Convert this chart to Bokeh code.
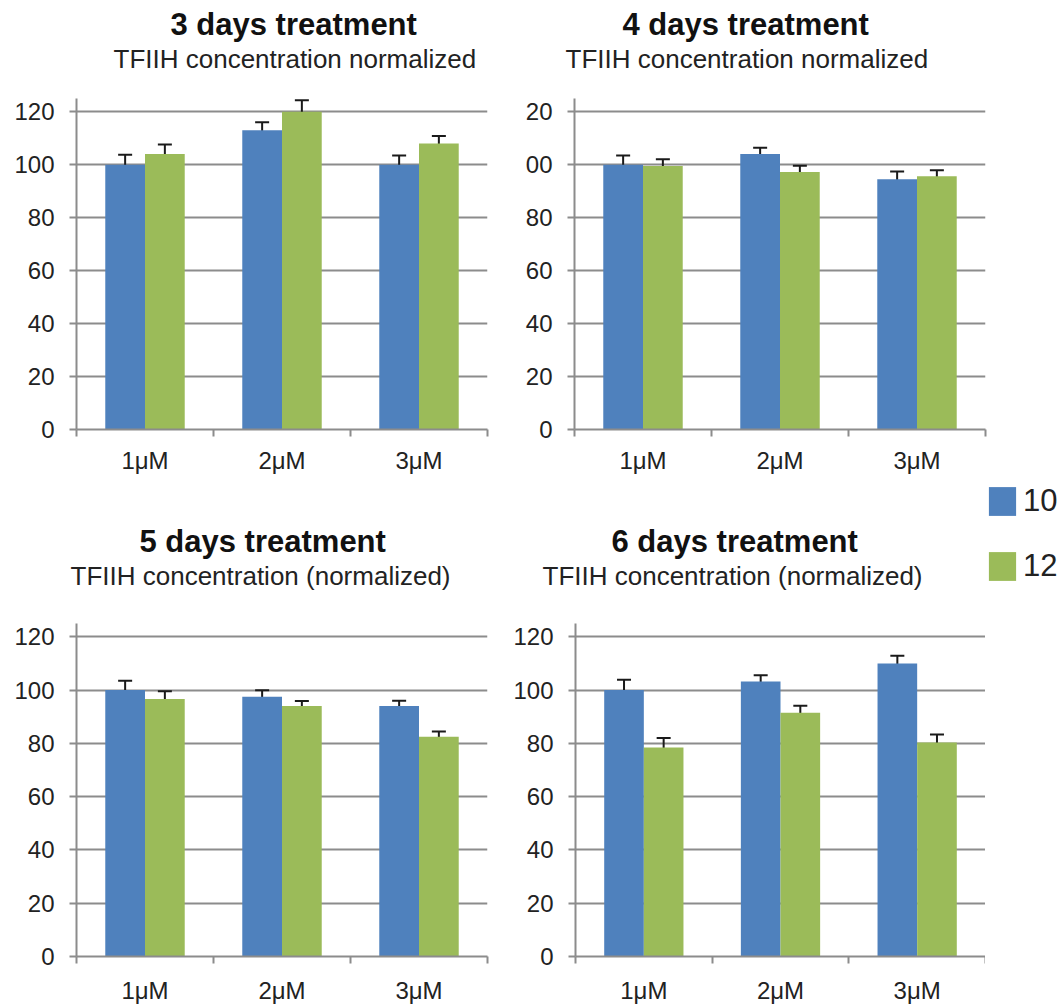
import numpy as np
from bokeh.plotting import figure
from bokeh.models import (ColumnDataSource, Range1d, FixedTicker, Whisker, TeeHead,
                          Title, Label, Legend, LegendItem, Plot)
from bokeh.layouts import row, column
from bokeh.embed import file_html
from bokeh.resources import INLINE

# ---------------- data ----------------
categories = ["1μM", "2μM", "3μM"]
series_names = ["10", "12"]

titles = ["3 days treatment", "4 days treatment", "5 days treatment", "6 days treatment"]
subtitles = ["TFIIH concentration normalized", "TFIIH concentration normalized",
             "TFIIH concentration (normalized)", "TFIIH concentration (normalized)"]

day3_10 = [100, 113, 100]
day3_10_err = [3.8, 3.0, 3.5]
day3_12 = [104, 120, 108]
day3_12_err = [3.6, 4.3, 2.8]

day4_10 = [100, 104, 94.5]
day4_10_err = [3.5, 2.4, 2.9]
day4_12 = [99.5, 97.2, 95.6]
day4_12_err = [2.6, 2.4, 2.3]

day5_10 = [100, 97.5, 94]
day5_10_err = [3.5, 2.4, 2.0]
day5_12 = [96.7, 94, 82.5]
day5_12_err = [2.9, 1.9, 2.0]

day6_10 = [100, 103.2, 110]
day6_10_err = [3.9, 2.4, 2.9]
day6_12 = [78.5, 91.5, 80.3]
day6_12_err = [3.5, 2.6, 3.0]

y_ticks = [0, 20, 40, 60, 80, 100, 120]
y_label_overrides_tr = {100: "00", 120: "20"}   # labels as clipped in the reference

# ---------------- style ----------------
BLUE = "#4F81BD"
GREEN = "#9BBB59"
GRAY = "#8c8c8c"
FONT = "Liberation Sans"
BAR_W = 0.29
Y_AXIS_MAX = 125
HAS_FRAME_ALIGN = "frame_align" in Plot.properties()


def panel(v10, e10, v12, e12, width, height, bl, br, bt, bb, xlab_standoff,
          y_end=Y_AXIS_MAX, overrides=None):
    p = figure(width=width, height=height, title=None,
               x_range=Range1d(0, 3), y_range=Range1d(0, y_end),
               output_backend="svg", toolbar_location=None,
               min_border_left=bl, min_border_right=br,
               min_border_top=bt, min_border_bottom=bb,
               outline_line_color=None, background_fill_color="white",
               border_fill_color="white")

    n = len(categories)
    centers = np.arange(n) + 0.5
    sources = []
    for vals, errs, color, off in ((v10, e10, BLUE, -BAR_W / 2), (v12, e12, GREEN, BAR_W / 2)):
        vals = np.asarray(vals, dtype=float)
        errs = np.asarray(errs, dtype=float)
        src = ColumnDataSource(dict(x=centers + off, top=vals,
                                    upper=vals + errs, lower=vals - errs))
        p.vbar(x="x", top="top", bottom=0, width=BAR_W, source=src,
               fill_color=color, line_color=None)
        sources.append(src)
        w = Whisker(source=src, base="x", upper="upper", lower="lower",
                    dimension="height", line_color="#1a1a1a", line_width=2,
                    upper_head=TeeHead(size=14, line_color="#1a1a1a", line_width=2),
                    lower_head=TeeHead(size=14, line_color="#1a1a1a", line_width=2))
        p.add_layout(w)

    # x axis: labels at category centres, ticks at category borders
    p.xaxis.ticker = FixedTicker(ticks=list(centers), minor_ticks=list(range(n + 1)))
    p.xaxis.major_label_overrides = {float(c): cat for c, cat in zip(centers, categories)}
    p.xaxis.major_tick_line_color = None
    p.xaxis.minor_tick_line_color = GRAY
    p.xaxis.minor_tick_line_width = 2
    p.xaxis.minor_tick_in = 0
    p.xaxis.minor_tick_out = 7
    p.xaxis.axis_line_color = GRAY
    p.xaxis.axis_line_width = 2
    p.xaxis.major_label_text_font = FONT
    p.xaxis.major_label_text_font_size = "24px"
    p.xaxis.major_label_text_color = "#222222"
    p.xaxis.major_label_standoff = xlab_standoff
    p.xgrid.visible = False

    # y axis
    p.yaxis.ticker = FixedTicker(ticks=y_ticks, minor_ticks=[])
    p.yaxis.bounds = (0, Y_AXIS_MAX)
    if overrides:
        p.yaxis.major_label_overrides = overrides
    p.yaxis.major_tick_line_color = GRAY
    p.yaxis.major_tick_line_width = 2
    p.yaxis.major_tick_in = 0
    p.yaxis.major_tick_out = 7
    p.yaxis.axis_line_color = GRAY
    p.yaxis.axis_line_width = 2
    p.yaxis.major_label_text_font = FONT
    p.yaxis.major_label_text_font_size = "24px"
    p.yaxis.major_label_text_color = "#222222"
    p.yaxis.major_label_standoff = 15
    p.ygrid.ticker = FixedTicker(ticks=y_ticks, minor_ticks=[])
    p.ygrid.grid_line_color = GRAY
    p.ygrid.grid_line_width = 2
    return p, sources


def header_titles(p, title, subtitle, title_off, sub_off, gap_standoff):
    # spacer between frame and subtitle, then subtitle, then bold title
    p.add_layout(Title(text=" ", text_font=FONT, text_font_size="10px",
                       standoff=gap_standoff), "above")
    p.add_layout(Title(text=subtitle, text_font=FONT, text_font_size="26px",
                       text_font_style="normal", text_color="#222222",
                       align="left", offset=sub_off, standoff=0), "above")
    p.add_layout(Title(text=title, text_font=FONT, text_font_size="31px",
                       text_font_style="bold", text_color="#111111",
                       align="left", offset=title_off, standoff=0), "above")


def frame_titles(p, title, subtitle, x_title, x_sub, y_title, y_sub):
    p.add_layout(Label(x=x_title, y=y_title, text=title, text_font=FONT,
                       text_font_size="31px", text_font_style="bold",
                       text_color="#111111", text_align="center",
                       text_baseline="alphabetic"))
    p.add_layout(Label(x=x_sub, y=y_sub, text=subtitle, text_font=FONT,
                       text_font_size="25px", text_color="#222222",
                       text_align="center", text_baseline="alphabetic"))


# ---------------- top row ----------------
p_tl, _ = panel(day3_10, day3_10_err, day3_12, day3_12_err,
                515, 476, 76, 28, 98, 45, 10)
header_titles(p_tl, titles[0], subtitles[0], 94, 37, 12)
p_tr, _ = panel(day4_10, day4_10_err, day4_12, day4_12_err,
                545, 476, 59, 75, 98, 45, 10, overrides=y_label_overrides_tr)
header_titles(p_tr, titles[1], subtitles[1], 48, -9, 12)

# ---------------- bottom row ----------------
if HAS_FRAME_ALIGN:
    p_bl, _ = panel(day5_10, day5_10_err, day5_12, day5_12_err,
                    500, 531, 76, 13, 147, 51, 13)
    header_titles(p_bl, titles[2], subtitles[2], 63, -6, 20)
    p_br, br_sources = panel(day6_10, day6_10_err, day6_12, day6_12_err,
                             485, 531, 75, 0, 147, 51, 13)
    header_titles(p_br, titles[3], subtitles[3], 36, -33, 20)
    leg_top, leg_bottom, leg_y = 0, 0, 423
else:
    BOTTOM_Y_END = 177.55
    p_bl, _ = panel(day5_10, day5_10_err, day5_12, day5_12_err,
                    500, 531, 76, 13, 7, 51, 13, y_end=BOTTOM_Y_END)
    frame_titles(p_bl, titles[2], subtitles[2], 1.361, 1.343, 155.9, 143.0)
    p_br, br_sources = panel(day6_10, day6_10_err, day6_12, day6_12_err,
                             485, 531, 75, 0, 7, 51, 13, y_end=BOTTOM_Y_END)
    frame_titles(p_br, titles[3], subtitles[3], 1.163, 1.354, 155.9, 143.0)
    leg_top, leg_bottom, leg_y = 7, 51, 372

# ---------------- legend (own small canvas, right of the last panel) ----------------
p_leg = figure(width=75, height=531, title=None, output_backend="svg",
               toolbar_location=None, x_axis_location=None, y_axis_location=None,
               x_range=Range1d(1000, 1001), y_range=Range1d(1000, 1001),
               min_border_left=0, min_border_right=0, min_border_top=leg_top,
               min_border_bottom=leg_bottom, outline_line_color=None,
               background_fill_color="white", border_fill_color="white")
if HAS_FRAME_ALIGN:
    p_leg.frame_align = False
p_leg.grid.visible = False
leg_renderers = [
    p_leg.vbar(x="x", top="top", bottom=0, width=BAR_W, source=br_sources[0],
               fill_color=BLUE, line_color=None),
    p_leg.vbar(x="x", top="top", bottom=0, width=BAR_W, source=br_sources[1],
               fill_color=GREEN, line_color=None),
]
legend = Legend(items=[LegendItem(label=series_names[0], renderers=[leg_renderers[0]]),
                       LegendItem(label=series_names[1], renderers=[leg_renderers[1]])],
                location=(0, leg_y), orientation="vertical",
                glyph_width=34, glyph_height=36, label_height=36,
                label_standoff=4, spacing=29, padding=0, margin=0,
                border_line_color=None, background_fill_alpha=0,
                label_text_font=FONT, label_text_font_size="31px",
                label_text_color="#222222")
p_leg.add_layout(legend, "center")

layout = column(row(p_tl, p_tr), row(p_bl, p_br, p_leg))

with open("out.html", "w") as f:
    f.write(file_html(layout, INLINE))
